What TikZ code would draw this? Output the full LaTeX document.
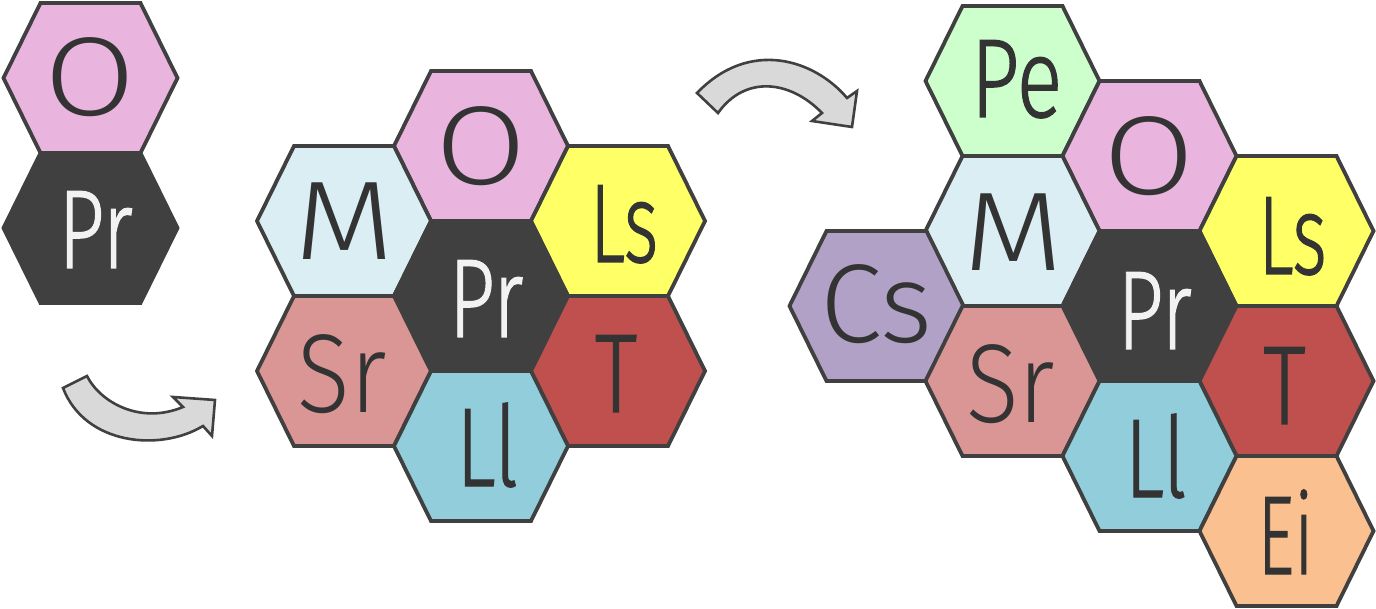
\documentclass[tikz,border=0pt]{standalone}
\usepackage{fontspec}
\setmainfont{Fira Sans}[UprightFont=* Light]
\newfontfamily\firathin{Fira Sans}[UprightFont=* Light]
\newfontfamily\firamid{Fira Sans}[UprightFont=* Light, FakeBold=1.2]
\definecolor{edge}{HTML}{404040}
\definecolor{ink}{HTML}{333333}
\definecolor{inklight}{HTML}{F2F2F2}
\definecolor{cO}{HTML}{E9B4DE}
\definecolor{cPr}{HTML}{404040}
\definecolor{cM}{HTML}{DAEEF3}
\definecolor{cLs}{HTML}{FFFF66}
\definecolor{cT}{HTML}{C0504D}
\definecolor{cSr}{HTML}{D99694}
\definecolor{cLl}{HTML}{92CDDC}
\definecolor{cPe}{HTML}{CCFFCC}
\definecolor{cCs}{HTML}{B2A1C7}
\definecolor{cEi}{HTML}{FAC090}
\definecolor{arrowfill}{HTML}{D9D9D9}
% #1 name, #2 x, #3 y, #4 fill, #5 label, #6 text colour, #7 x-scale of label, #8 label shift right, #9 label shift down
\newcommand\hexcell[9]{%
  \path[hexline, fill=#4, shift={(#2,#3)}] (-87,0) -- (-50,-75) -- (50,-75) -- (87,0) -- (50,75) -- (-50,75) -- cycle;
  \node[hexlabel, text=#6] (#1) at ({#2+#8},{#3+38+#9}) {\scalebox{#7}[1]{#5}};}
\begin{document}
\begin{tikzpicture}[x=1pt,y=-1pt,
  hexline/.style={draw=edge, line width=3.8pt, line join=miter},
  hexlabel/.style={anchor=base, inner sep=0pt, font=\fontsize{112}{112}\selectfont},
  bendarrow/.style={draw=edge, fill=arrowfill, line width=2.6pt, line join=miter}]
\useasboundingbox (0,0) rectangle (1376,609);
% cluster 1
\hexcell{o1}{90.5}{78}{cO}{\firathin O}{ink}{1.18}{0}{0}
\hexcell{pr1}{90.5}{228}{cPr}{\firamid Pr}{inklight}{0.72}{5}{2}
% cluster 2
\hexcell{o2}{481}{146}{cO}{\firathin O}{ink}{1.18}{0}{1}
\hexcell{m2}{344}{221}{cM}{\firathin M}{ink}{1.16}{1}{1}
\hexcell{ls2}{618}{221}{cLs}{\firamid Ls}{ink}{0.66}{6}{3}
\hexcell{pr2}{481}{296}{cPr}{\firamid Pr}{inklight}{0.72}{5}{3}
\hexcell{sr2}{344}{371}{cSr}{\firathin Sr}{ink}{0.87}{-2}{4}
\hexcell{t2}{618}{371}{cT}{\firamid T}{ink}{0.76}{-2}{3}
\hexcell{ll2}{481}{446}{cLl}{\firamid Ll}{ink}{0.74}{6}{2}
% cluster 3
\hexcell{pe3}{1012.5}{81}{cPe}{\firamid Pe}{ink}{0.76}{4}{-2}
\hexcell{o3}{1149.5}{156}{cO}{\firathin O}{ink}{1.18}{0}{1}
\hexcell{m3}{1012.5}{231}{cM}{\firathin M}{ink}{1.16}{1}{2}
\hexcell{cs3}{876.5}{306}{cCs}{\firathin Cs}{ink}{1.0}{0}{-1}
\hexcell{ls3}{1286.5}{231}{cLs}{\firamid Ls}{ink}{0.66}{6}{5}
\hexcell{pr3}{1149.5}{306}{cPr}{\firamid Pr}{inklight}{0.72}{5}{5}
\hexcell{sr3}{1012.5}{381}{cSr}{\firathin Sr}{ink}{0.87}{-2}{3}
\hexcell{t3}{1286.5}{381}{cT}{\firamid T}{ink}{0.76}{-2}{5}
\hexcell{ll3}{1149.5}{456}{cLl}{\firamid Ll}{ink}{0.74}{6}{3}
\hexcell{ei3}{1286.5}{531}{cEi}{\firamid Ei}{ink}{0.64}{-1}{5}
% curved arrows
\path[bendarrow] (63,388) -- (87,376) .. controls (100,402) and (140,425) .. (183,407)
  -- (173,397) -- (215,400) -- (212,436) -- (203,426)
  .. controls (160,452) and (85,445) .. cycle;
\path[bendarrow] (697,93) -- (718,113) .. controls (745,75) and (790,80) .. (822,113)
  -- (812,121) -- (852,127) -- (857,91) -- (847,98)
  .. controls (815,60) and (750,38) .. cycle;
\end{tikzpicture}
\end{document}
